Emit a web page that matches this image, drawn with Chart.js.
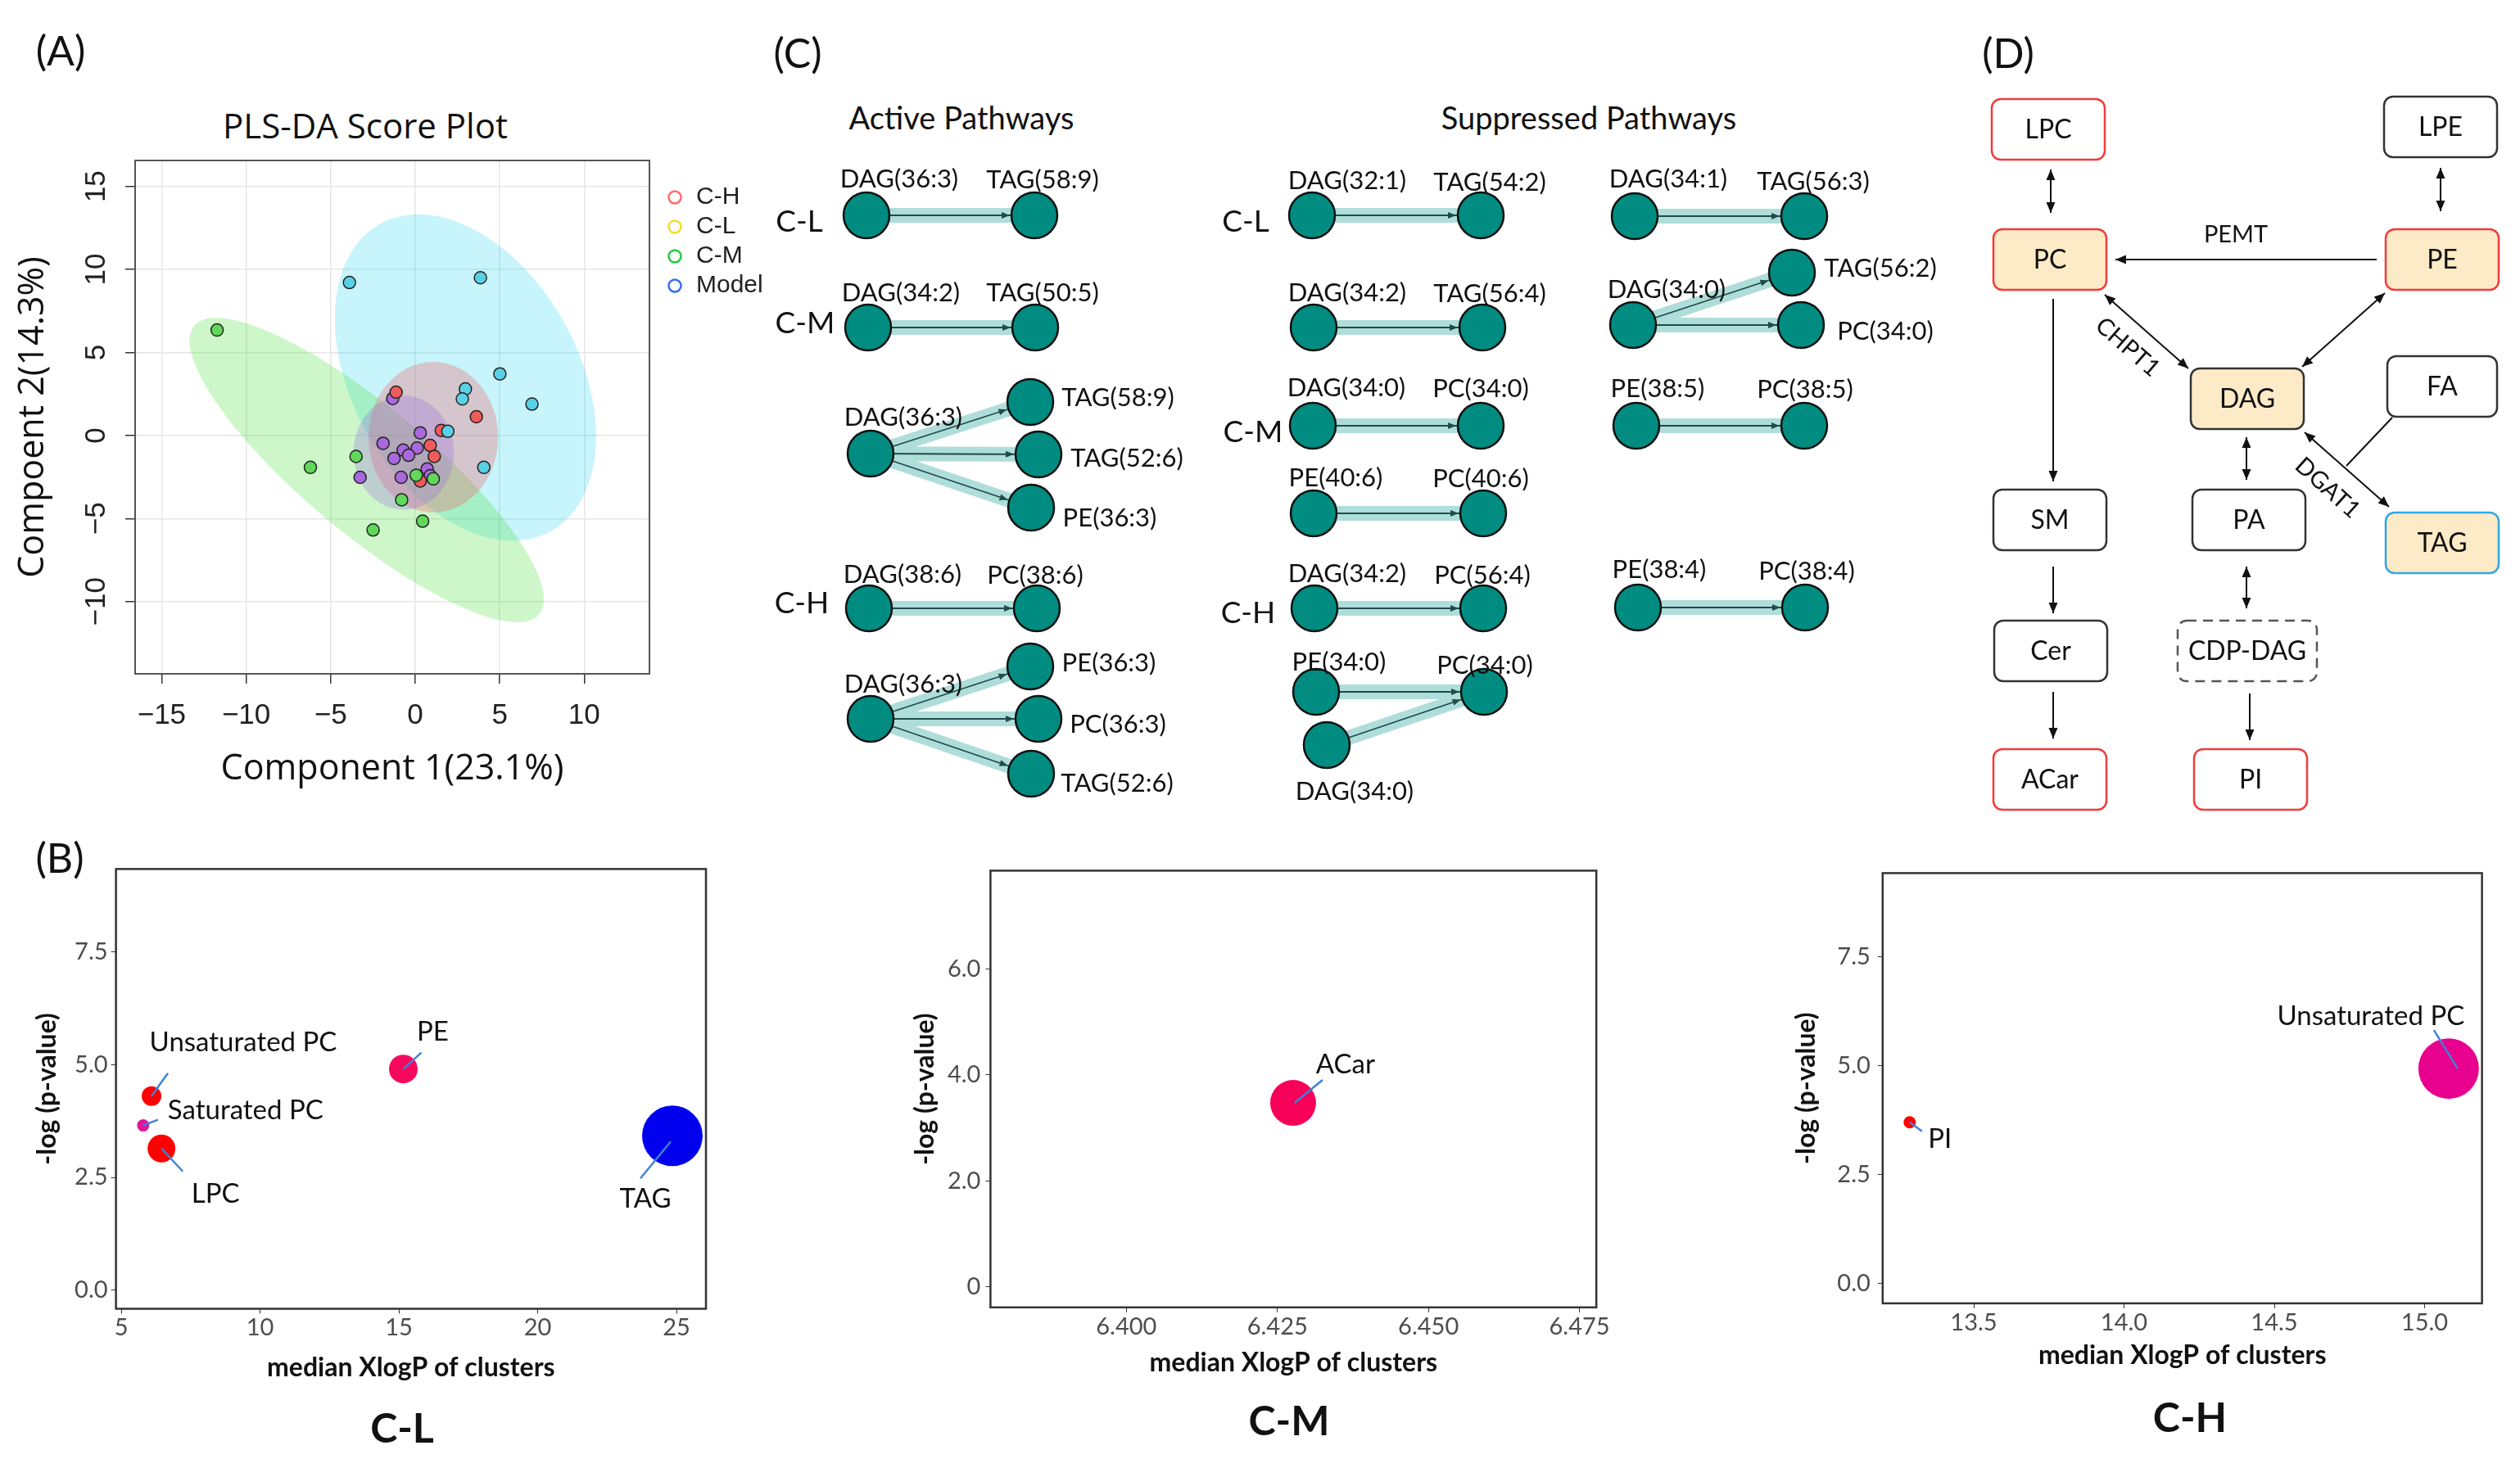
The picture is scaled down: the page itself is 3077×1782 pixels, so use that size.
<!DOCTYPE html>
<html>
<head>
<meta charset="utf-8">
<title>Lipid remodelling figure</title>
<script src="https://cdn.jsdelivr.net/npm/chart.js@4.4.1/dist/chart.umd.min.js"></script>
<style>
  html, body { margin: 0; padding: 0; background: #fff; }
  body { position: relative; width: 3077px; height: 1782px; overflow: hidden; font-family: Lato, sans-serif; color: #111; }
  .panel { position: absolute; }
  .lbl { position: absolute; transform: translate(-50%, -50%); white-space: nowrap; line-height: 1; }
</style>
</head>
<body>
<div class="lbl" style="left:74px;top:61px;font-size:50px">(A)</div>
<div class="lbl" style="left:73px;top:1047px;font-size:50px">(B)</div>
<div class="lbl" style="left:974px;top:64px;font-size:50px">(C)</div>
<div class="lbl" style="left:2452px;top:64px;font-size:50px">(D)</div>
<div class="lbl" style="left:446px;top:153px;font-size:42px;font-family:'Open Sans'">PLS-DA Score Plot</div>
<div class="lbl" style="left:1174px;top:143px;font-size:38px">Active Pathways</div>
<div class="lbl" style="left:1940px;top:143px;font-size:38px">Suppressed Pathways</div>
<div class="lbl" style="left:491px;top:1743px;font-size:50px;font-weight:bold">C-L</div>
<div class="lbl" style="left:1574px;top:1734px;font-size:50px;font-weight:bold">C-M</div>
<div class="lbl" style="left:2674px;top:1730px;font-size:50px;font-weight:bold">C-H</div>

<div class="panel" style="left:0;top:120px;width:960px;height:880px"><canvas id="plsda"></canvas></div>
<div class="panel" style="left:0;top:1040px;width:900px;height:742px"><canvas id="bubbleCL"></canvas></div>
<div class="panel" style="left:1080px;top:1040px;width:900px;height:742px"><canvas id="bubbleCM"></canvas></div>
<div class="panel" style="left:2140px;top:1040px;width:937px;height:742px"><canvas id="bubbleCH"></canvas></div>
<div class="panel" style="left:900px;top:0;width:2177px;height:1010px"><canvas id="pathways"></canvas></div>

<script>
// ---------- (A) PLS-DA scores ----------
const clX = [-1.33, 0.30, -1.90, -0.71, 0.12, -0.39, -1.25, 0.71, 0.89, -3.26, -0.83];
const clY = [2.23, 0.16, -0.47, -0.88, -0.75, -1.19, -1.38, -2.01, -2.42, -2.52, -2.52];
const chX = [-1.13, 3.62, 1.54, 0.89, 1.13, 0.30];
const chY = [2.61, 1.13, 0.31, -0.60, -1.26, -2.74];
const cmX = [-11.72, -6.20, -3.50, -2.49, -0.80, 0.44, 0.06, 1.07];
const cmY = [6.35, -1.92, -1.26, -5.69, -3.87, -5.16, -2.39, -2.61];
const modelX = [-3.89, 3.86, 5.01, 2.97, 2.79, 6.91, 1.93, 4.06];
const modelY = [9.21, 9.50, 3.71, 2.80, 2.20, 1.89, 0.25, -1.92];

// 95% confidence ellipses (centre, semi-axes, angle in degrees)
const ellGroups = ['Model', 'C-M', 'C-H', 'C-L'];
const ellCx = [2.97, -2.87, 1.07, -0.68];
const ellCy = [3.49, -2.08, -0.10, -1.04];
const ellA = [10.54, 13.4, 3.83, 2.97];
const ellB = [6.72, 3.78, 4.53, 3.43];
const ellAngle = [-62, -40.5, 0, 0];

const legendNames = ['C-H', 'C-L', 'C-M', 'Model'];

// ---------- (B) cluster bubbles ----------
const clNames = ['Unsaturated PC', 'Saturated PC', 'LPC', 'PE', 'TAG'];
const clXlogP = [6.09, 5.79, 6.45, 15.16, 24.85];
const clLogP = [4.30, 3.65, 3.14, 4.90, 3.42];
const clSize = [12, 7.5, 17, 17.5, 37];

const cmNames = ['ACar'];
const cmXlogP = [6.4276];
const cmLogP = [3.47];
const cmSize = [28];

const chNames = ['PI', 'Unsaturated PC'];
const chXlogP = [13.287, 15.08];
const chLogP = [3.70, 4.93];
const chSize = [7.5, 37];

// ---------- (C) pathway network ----------
const nodeNames = ['DAG(36:3)', 'TAG(58:9)', 'DAG(34:2)', 'TAG(50:5)', 'DAG(36:3)', 'TAG(58:9)', 'TAG(52:6)', 'PE(36:3)',
  'DAG(38:6)', 'PC(38:6)', 'DAG(36:3)', 'PE(36:3)', 'PC(36:3)', 'TAG(52:6)',
  'DAG(32:1)', 'TAG(54:2)', 'DAG(34:2)', 'TAG(56:4)', 'DAG(34:0)', 'PC(34:0)', 'PE(40:6)', 'PC(40:6)',
  'DAG(34:2)', 'PC(56:4)', 'PE(34:0)', 'PC(34:0)', 'DAG(34:0)',
  'DAG(34:1)', 'TAG(56:3)', 'DAG(34:0)', 'TAG(56:2)', 'PC(34:0)', 'PE(38:5)', 'PC(38:5)', 'PE(38:4)', 'PC(38:4)'];
const nodeX = [1058, 1263, 1060, 1264, 1063, 1258, 1268, 1259, 1061, 1266, 1063, 1258, 1268, 1259,
  1602, 1808, 1604, 1810, 1603, 1808, 1604, 1811, 1605, 1811, 1607, 1812, 1620,
  1996, 2203, 1994, 2188, 2199, 1998, 2203, 2000, 2204];
const nodeY = [263, 263, 400, 400, 554, 491, 555, 620, 743, 743, 878, 814, 878, 945,
  263, 263, 400, 400, 520, 520, 627, 627, 743, 743, 845, 845, 910,
  264, 264, 397, 333, 397, 520, 520, 742, 742];
const edgeFrom = [0, 2, 4, 4, 4, 8, 10, 10, 10, 14, 16, 18, 20, 22, 24, 26, 27, 29, 29, 32, 34];
const edgeTo = [1, 3, 5, 6, 7, 9, 11, 12, 13, 15, 17, 19, 21, 23, 25, 25, 28, 30, 31, 33, 35];
const groupNames = ['C-L', 'C-M', 'C-H', 'C-L', 'C-M', 'C-H'];

// ---------- (D) lipid metabolism scheme ----------
const boxNames = ['LPC', 'LPE', 'PC', 'PE', 'DAG', 'FA', 'SM', 'PA', 'TAG', 'Cer', 'CDP-DAG', 'ACar', 'PI'];
const boxStatus = ['up', 'none', 'up', 'up', 'none', 'none', 'none', 'none', 'down', 'none', 'unknown', 'up', 'up'];
const boxInNetwork = [0, 0, 1, 1, 1, 0, 0, 0, 1, 0, 0, 0, 0];
const linkFrom = ['LPC', 'LPE', 'PE', 'PC', 'PE', 'PC', 'DAG', 'DAG', 'FA', 'SM', 'PA', 'Cer', 'CDP-DAG'];
const linkTo = ['PC', 'PE', 'PC', 'DAG', 'DAG', 'SM', 'PA', 'TAG', 'DGAT1', 'Cer', 'CDP-DAG', 'ACar', 'PI'];
const linkHeads = [2, 2, 1, 2, 2, 1, 2, 2, 0, 1, 2, 1, 1];
const enzymeNames = ['PEMT', 'CHPT1', 'DGAT1'];

// ---------- layout (page pixels, diagram canvas uses page coordinates) ----------
const nodeLabelX = [1098, 1273, 1100, 1273, 1103, 1365, 1376, 1355, 1102, 1264, 1103, 1354, 1365, 1364,
  1645, 1819, 1645, 1819, 1644, 1808, 1631, 1808, 1645, 1810, 1635, 1813, 1654,
  2037, 2214, 2035, 2296, 2302, 2024, 2204, 2026, 2206];
const nodeLabelY = [219, 220, 358, 358, 510, 486, 560, 633, 702, 703, 836, 810, 885, 957,
  221, 223, 358, 359, 474, 475, 584, 585, 701, 703, 809, 813, 967,
  219, 222, 354, 328, 405, 475, 476, 696, 698];
const groupLabelX = [976, 983, 979, 1521, 1530, 1524];
const groupLabelY = [271, 395, 737, 271, 528, 749];
const boxX = [2501, 2980, 2503, 2982, 2744, 2982, 2503, 2746, 2982, 2504, 2744, 2503, 2748];
const boxY = [158, 155, 317, 317, 487, 472, 635, 635, 663, 795, 795, 952, 952];
const boxW = [138, 138, 138, 138, 138, 134, 138, 138, 138, 138, 170, 138, 138];
const linkX1 = [2504, 2980, 2902, 2570, 2912, 2507, 2743, 2814, 2921, 2507, 2743, 2507, 2747];
const linkY1 = [207, 205, 317, 360, 358, 365, 534, 528, 510, 692, 692, 845, 847];
const linkX2 = [2504, 2980, 2583, 2672, 2811, 2507, 2743, 2917, 2865, 2507, 2743, 2507, 2747];
const linkY2 = [260, 258, 317, 450, 448, 588, 586, 619, 569, 749, 743, 902, 904];
const enzymeX = [2730, 2598, 2842];
const enzymeY = [287, 424, 596];
const enzymeAngle = [0, 41, 42];

// ---------- styles ----------
const groupFill = { 'C-L': '#A968DC', 'C-H': '#EF5B5B', 'C-M': '#62D85A', 'Model': '#5AD0E4' };
const ellFill = ['rgba(0,210,235,0.22)', 'rgba(60,225,40,0.25)', 'rgba(240,100,110,0.33)', 'rgba(150,110,225,0.30)'];
const legendColors = ['#FF6B6B', '#F2DC2B', '#1FCC3A', '#2F6FEF'];
const statusColor = { up: '#F03C3C', down: '#2FA8E8', none: '#333333', unknown: '#555555' };
const NODE_R = 28;
const EDGE_DARK = '#1E4D49';

Chart.defaults.animation = false;
Chart.defaults.events = [];
Chart.defaults.font.family = 'Lato';
Chart.defaults.plugins.legend.display = false;
Chart.defaults.plugins.tooltip.enabled = false;

const minus = v => (v < 0 ? '\u2212' + Math.abs(v) : String(v));

// box round the plotting region
const framePlugin = {
  id: 'frame',
  afterDraw(chart, args, opts) {
    const { ctx, chartArea: a } = chart;
    ctx.save();
    ctx.strokeStyle = opts.color;
    ctx.lineWidth = opts.width;
    ctx.strokeRect(a.left, a.top, a.right - a.left, a.bottom - a.top);
    ctx.restore();
  }
};

const ellipsePlugin = {
  id: 'ellipses',
  beforeDatasetsDraw(chart) {
    const { ctx, chartArea: a, scales: { x, y } } = chart;
    ctx.save();
    ctx.beginPath();
    ctx.rect(a.left, a.top, a.right - a.left, a.bottom - a.top);
    ctx.clip();
    ellCx.forEach((cx, i) => {
      const th = ellAngle[i] * Math.PI / 180;
      ctx.beginPath();
      for (let k = 0; k <= 120; k++) {
        const t = k / 120 * 2 * Math.PI;
        const dx = ellA[i] * Math.cos(t), dy = ellB[i] * Math.sin(t);
        const px = x.getPixelForValue(cx + dx * Math.cos(th) - dy * Math.sin(th));
        const py = y.getPixelForValue(ellCy[i] + dx * Math.sin(th) + dy * Math.cos(th));
        if (k) ctx.lineTo(px, py); else ctx.moveTo(px, py);
      }
      ctx.closePath();
      ctx.fillStyle = ellFill[i];
      ctx.fill();
    });
    ctx.restore();
  }
};

const legendPlugin = {
  id: 'groupLegend',
  afterDraw(chart) {
    const { ctx, chartArea: a } = chart;
    ctx.save();
    ctx.font = '30px "Liberation Sans"';
    ctx.textBaseline = 'middle';
    ctx.textAlign = 'left';
    ctx.lineWidth = 2.5;
    legendNames.forEach((n, i) => {
      const yy = a.top + 45 + i * 36;
      ctx.beginPath();
      ctx.arc(a.right + 31, yy, 7.5, 0, 2 * Math.PI);
      ctx.strokeStyle = legendColors[i];
      ctx.stroke();
      ctx.fillStyle = '#222';
      ctx.fillText(n, a.right + 57, yy);
    });
    ctx.restore();
  }
};

function scoreSet(label, xs, ys) {
  return {
    label,
    data: xs.map((v, i) => ({ x: v, y: ys[i] })),
    backgroundColor: groupFill[label],
    borderColor: '#222',
    borderWidth: 1.5,
    pointRadius: 7.5
  };
}

const axisA = {
  grid: { color: '#E6E6E6', lineWidth: 1.5, tickColor: '#333', tickLength: 12 },
  border: { display: false }
};

new Chart(document.getElementById('plsda'), {
  type: 'scatter',
  data: {
    datasets: [
      scoreSet('Model', modelX, modelY),
      scoreSet('C-M', cmX, cmY),
      scoreSet('C-H', chX, chY),
      scoreSet('C-L', clX, clY)
    ]
  },
  options: {
    responsive: true,
    maintainAspectRatio: false,
    layout: { autoPadding: false, padding: { top: 76, right: 167, left: 0, bottom: 0 } },
    scales: {
      x: {
        ...axisA,
        min: -16.57, max: 13.86,
        afterFit: s => { s.height = 177; },
        ticks: { stepSize: 5, includeBounds: false, autoSkip: false, maxRotation: 0, padding: 18,
          color: '#222', font: { family: 'Liberation Sans', size: 35 }, callback: v => minus(v) },
        title: { display: true, text: 'Component 1(23.1%)', color: '#111',
          font: { family: 'Open Sans', size: 43 }, padding: { top: 0, bottom: 34 } }
      },
      y: {
        ...axisA,
        min: -14.35, max: 16.56,
        afterFit: s => { s.width = 165; },
        ticks: { stepSize: 5, includeBounds: false, autoSkip: false, minRotation: 90, maxRotation: 90,
          crossAlign: 'center', padding: 5, color: '#222', font: { family: 'Liberation Sans', size: 35 },
          callback: v => minus(v) },
        title: { display: true, text: 'Compoent 2(14.3%)', color: '#111',
          font: { family: 'Open Sans', size: 43 }, padding: { top: 15, bottom: 0 } }
      }
    },
    plugins: { frame: { color: '#555', width: 2 } }
  },
  plugins: [ellipsePlugin, framePlugin, legendPlugin]
});

// ---------- bubble panels ----------
const calloutPlugin = {
  id: 'callouts',
  afterDatasetsDraw(chart, args, opts) {
    const { ctx } = chart;
    const pts = chart.getDatasetMeta(0).data;
    ctx.save();
    ctx.font = '33px Lato';
    ctx.textAlign = 'center';
    ctx.textBaseline = 'middle';
    pts.forEach((p, i) => {
      ctx.strokeStyle = '#3F82D8';
      ctx.lineWidth = 2.5;
      ctx.beginPath();
      ctx.moveTo(p.x + opts.lineDx[i], p.y + opts.lineDy[i]);
      ctx.lineTo(p.x + opts.endDx[i], p.y + opts.endDy[i]);
      ctx.stroke();
      ctx.fillStyle = '#111';
      ctx.fillText(opts.names[i], p.x + opts.textDx[i], p.y + opts.textDy[i]);
    });
    ctx.restore();
  }
};

function bubbleChart(id, names, xs, ys, sizes, colors, ax, callout) {
  const tickFont = { family: 'Lato', size: 29 };
  const titleFont = { family: 'Lato', size: 32, weight: 'bold' };
  return new Chart(document.getElementById(id), {
    type: 'bubble',
    data: {
      datasets: [{
        data: xs.map((v, i) => ({ x: v, y: ys[i], r: sizes[i] })),
        backgroundColor: colors,
        borderWidth: 0,
        hoverRadius: 0
      }]
    },
    options: {
      responsive: true,
      maintainAspectRatio: false,
      layout: { autoPadding: false, padding: { top: ax.padTop, right: ax.padRight, left: 0, bottom: 0 } },
      scales: {
        x: {
          min: ax.xMin, max: ax.xMax,
          afterFit: s => { s.height = ax.xHeight; },
          grid: { drawOnChartArea: false, tickColor: '#333', tickLength: 6 },
          border: { display: false },
          ticks: { stepSize: ax.xStep, includeBounds: false, autoSkip: false, maxRotation: 0, padding: 0,
            color: '#4D4D4D', font: tickFont, callback: ax.xFmt },
          title: { display: true, text: 'median XlogP of clusters', color: '#111', font: titleFont,
            padding: { top: 0, bottom: ax.xTitlePad } }
        },
        y: {
          min: ax.yMin, max: ax.yMax,
          afterFit: s => { s.width = ax.yWidth; },
          grid: { drawOnChartArea: false, tickColor: '#333', tickLength: 6 },
          border: { display: false },
          ticks: { stepSize: ax.yStep, includeBounds: false, autoSkip: false, padding: ax.yTickPad,
            color: '#4D4D4D', font: tickFont, callback: ax.yFmt },
          title: { display: true, text: '-log (p-value)', color: '#111', font: titleFont,
            padding: { top: ax.yTitlePad, bottom: 0 } }
        }
      },
      plugins: { frame: { color: '#333', width: 2.5 }, callouts: { names, ...callout } }
    },
    plugins: [framePlugin, calloutPlugin]
  });
}

const fmt1 = v => v.toFixed(1);

bubbleChart('bubbleCL', clNames, clXlogP, clLogP, clSize,
  ['#FF0000', '#E0179A', '#FF0000', '#F5095D', '#0000EE'],
  { xMin: 4.81, xMax: 26.06, xStep: 5, xFmt: v => String(v), yMin: -0.41, yMax: 9.33, yStep: 2.5, yFmt: fmt1,
    padTop: 18.9, padRight: 38, yWidth: 141.6, xHeight: 183.5, yTitlePad: 38, xTitlePad: 91.8, yTickPad: 4 },
  { textDx: [112, 125, 66, 36, -33], textDy: [-65, -18, 56, -45, 77],
    lineDx: [20, 18, 26, 22, -39], lineDy: [-28, -7, 28, -20, 52],
    endDx: [0, 0, 0, 0, -2], endDy: [0, 0, 0, 0, 7] });

bubbleChart('bubbleCM', cmNames, cmXlogP, cmLogP, cmSize, ['#F7005A'],
  { xMin: 6.3775, xMax: 6.4778, xStep: 0.025, xFmt: v => v.toFixed(3), yMin: -0.386, yMax: 7.85, yStep: 2,
    yFmt: v => (v === 0 ? '0' : v.toFixed(1)),
    padTop: 16.4, padRight: 30.8, yWidth: 129.4, xHeight: 185.2, yTitlePad: 30.8, xTitlePad: 97.8, yTickPad: 6 },
  { textDx: [64], textDy: [-47], lineDx: [36], lineDy: [-28], endDx: [2], endDy: [0] });

bubbleChart('bubbleCH', chNames, chXlogP, chLogP, chSize, ['#FF0000', '#E8008E'],
  { xMin: 13.197, xMax: 15.191, xStep: 0.5, xFmt: fmt1, yMin: -0.449, yMax: 9.41, yStep: 2.5, yFmt: fmt1,
    padTop: 15.5, padRight: 46.4, yWidth: 158.8, xHeight: 190.1, yTitlePad: 46.2, xTitlePad: 107.2, yTickPad: 9 },
  { textDx: [37, -95], textDy: [21, -64], lineDx: [15, -18], lineDy: [11, -47], endDx: [0, 11], endDy: [0, 0] });

// ---------- (C) + (D) diagram ----------
function arrowHead(ctx, x1, y1, x2, y2, len, half, color) {
  const a = Math.atan2(y2 - y1, x2 - x1);
  ctx.save();
  ctx.translate(x2, y2);
  ctx.rotate(a);
  ctx.beginPath();
  ctx.moveTo(0, 0);
  ctx.lineTo(-len, -half);
  ctx.lineTo(-len, half);
  ctx.closePath();
  ctx.fillStyle = color;
  ctx.fill();
  ctx.restore();
}

const pathwayPlugin = {
  id: 'pathwayDecor',
  afterDatasetsDraw(chart) {
    const { ctx, scales: { x, y } } = chart;
    const px = v => x.getPixelForValue(v), py = v => y.getPixelForValue(v);
    ctx.save();

    // arrow tips of the network edges
    edgeFrom.forEach((f, i) => {
      const t = edgeTo[i];
      const x1 = px(nodeX[f]), y1 = py(nodeY[f]), x2 = px(nodeX[t]), y2 = py(nodeY[t]);
      const d = Math.hypot(x2 - x1, y2 - y1);
      const ex = x2 - (x2 - x1) / d * (NODE_R + 2), ey = y2 - (y2 - y1) / d * (NODE_R + 2);
      arrowHead(ctx, x1, y1, ex, ey, 10, 4, EDGE_DARK);
    });

    ctx.textAlign = 'center';
    ctx.textBaseline = 'middle';
    ctx.fillStyle = '#111';
    ctx.font = '31px Lato';
    nodeNames.forEach((n, i) => ctx.fillText(n, px(nodeLabelX[i]), py(nodeLabelY[i])));
    ctx.font = '37px Lato';
    groupNames.forEach((n, i) => ctx.fillText(n, px(groupLabelX[i]), py(groupLabelY[i])));

    // scheme links
    ctx.strokeStyle = '#111';
    ctx.lineWidth = 2;
    linkFrom.forEach((f, i) => {
      const x1 = px(linkX1[i]), y1 = py(linkY1[i]), x2 = px(linkX2[i]), y2 = py(linkY2[i]);
      ctx.beginPath();
      ctx.moveTo(x1, y1);
      ctx.lineTo(x2, y2);
      ctx.stroke();
      if (linkHeads[i] >= 1) arrowHead(ctx, x1, y1, x2, y2, 13, 5.5, '#111');
      if (linkHeads[i] === 2) arrowHead(ctx, x2, y2, x1, y1, 13, 5.5, '#111');
    });

    // scheme boxes
    boxNames.forEach((n, i) => {
      const w = boxW[i], h = 74;
      const cx = px(boxX[i]), cy = py(boxY[i]);
      ctx.beginPath();
      ctx.roundRect(cx - w / 2, cy - h / 2, w, h, 11);
      ctx.fillStyle = boxInNetwork[i] ? '#FCEBC6' : '#FFFFFF';
      ctx.fill();
      ctx.setLineDash(boxStatus[i] === 'unknown' ? [12, 8] : []);
      ctx.strokeStyle = statusColor[boxStatus[i]];
      ctx.lineWidth = 2.5;
      ctx.stroke();
      ctx.setLineDash([]);
      ctx.fillStyle = '#111';
      ctx.font = '32px Lato';
      ctx.fillText(n, cx, cy + 1);
    });

    ctx.font = '29px Lato';
    enzymeNames.forEach((n, i) => {
      ctx.save();
      ctx.translate(px(enzymeX[i]), py(enzymeY[i]));
      ctx.rotate(enzymeAngle[i] * Math.PI / 180);
      ctx.fillText(n, 0, 0);
      ctx.restore();
    });
    ctx.restore();
  }
};

const edgePts = [];
edgeFrom.forEach((f, i) => {
  const t = edgeTo[i];
  edgePts.push({ x: nodeX[f], y: nodeY[f] }, { x: nodeX[t], y: nodeY[t] }, { x: null, y: null });
});

new Chart(document.getElementById('pathways'), {
  type: 'scatter',
  data: {
    datasets: [
      { label: 'lipids', data: nodeX.map((v, i) => ({ x: v, y: nodeY[i] })),
        pointRadius: NODE_R, backgroundColor: '#008C80', borderColor: '#111', borderWidth: 2.5 },
      { label: 'direction', data: edgePts, showLine: true, spanGaps: false, pointRadius: 0,
        borderColor: EDGE_DARK, borderWidth: 1.8 },
      { label: 'flux', data: edgePts, showLine: true, spanGaps: false, pointRadius: 0,
        borderColor: 'rgba(95,188,180,0.5)', borderWidth: 18, borderCapStyle: 'butt' }
    ]
  },
  options: {
    responsive: true,
    maintainAspectRatio: false,
    layout: { autoPadding: false, padding: 0 },
    scales: {
      x: { display: false, min: 900, max: 3077 },
      y: { display: false, min: 0, max: 1010, reverse: true }
    }
  },
  plugins: [pathwayPlugin]
});
</script>
</body>
</html>
